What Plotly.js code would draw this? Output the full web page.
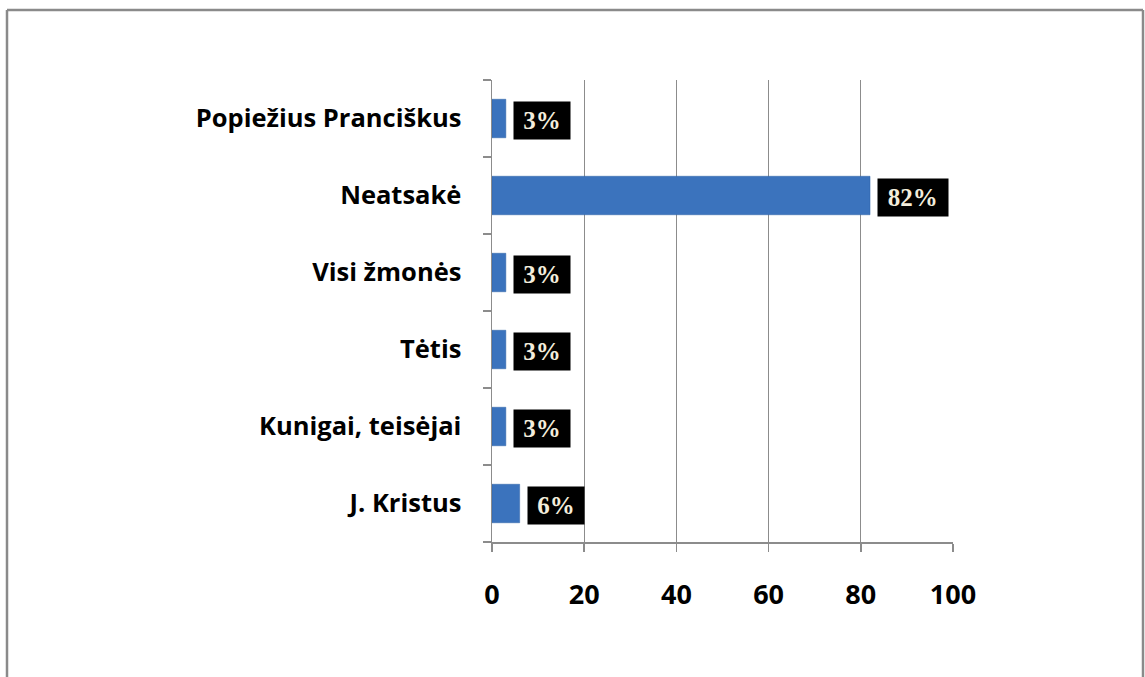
<!DOCTYPE html>
<html>
<head>
<meta charset="utf-8">
<script src="https://cdn.plot.ly/plotly-3.0.1.min.js"></script>
<style>
html,body{margin:0;padding:0;background:#fff;}
#chart{width:1145px;height:677px;}
</style>
</head>
<body>
<div id="chart"></div>
<script>
// Data (bottom to top as drawn)
const categories = ["J. Kristus", "Kunigai, teisėjai", "Tėtis", "Visi žmonės", "Neatsakė", "Popiežius Pranciškus"];
const values = [6, 3, 3, 3, 82, 3];
const valueLabels = ["6%", "3%", "3%", "3%", "82%", "3%"];
const xTicks = [0, 20, 40, 60, 80, 100];

const trace = {
  type: "bar",
  orientation: "h",
  y: categories,
  x: values,
  marker: {color: "#3b73bd", line: {color: "#2f62a6", width: 0.5}},
  hoverinfo: "none"
};

const annotations = categories.map((c, i) => ({
  x: values[i],
  y: c,
  xref: "x",
  yref: "y",
  text: "<b>" + valueLabels[i] + "</b>",
  showarrow: false,
  xanchor: "left",
  yanchor: "middle",
  xshift: 7,
  yshift: -2,
  width: valueLabels[i].length * 13.5 + 19,
  bgcolor: "#000000",
  borderpad: 5,
  font: {family: "Liberation Serif, serif", size: 25, color: "#f3eddc"}
}));

const W = 461, H = 462;
const layout = {
  width: 1145,
  height: 677,
  margin: {l: 492, r: 192, t: 80, b: 135},
  paper_bgcolor: "#ffffff",
  plot_bgcolor: "#ffffff",
  showlegend: false,
  bargap: 0.5,
  xaxis: {
    range: [0, 100],
    tickvals: xTicks,
    ticktext: xTicks.map(String),
    showgrid: true,
    gridcolor: "#8c8c8c",
    gridwidth: 1.2,
    zeroline: false,
    showline: true,
    linecolor: "#8c8c8c",
    linewidth: 1.5,
    ticks: "outside",
    ticklen: 8,
    tickcolor: "#8c8c8c",
    tickwidth: 1.5,
    ticklabelstandoff: 20,
    tickfont: {family: "Open Sans, sans-serif", size: 27, color: "#000", weight: "bold"},
    fixedrange: true
  },
  yaxis: {
    type: "category",
    categoryorder: "array",
    categoryarray: categories,
    showgrid: false,
    showline: true,
    linecolor: "#8c8c8c",
    linewidth: 1.5,
    ticks: "outside",
    tickson: "boundaries",
    ticklen: 8,
    tickcolor: "#8c8c8c",
    tickwidth: 1.5,
    ticklabelstandoff: 24,
    tickfont: {family: "Open Sans, sans-serif", size: 25.5, color: "#000", weight: "bold"},
    fixedrange: true
  },
  annotations: annotations,
  shapes: [
    {type: "line", xref: "paper", yref: "paper",
     x0: (7 - 492) / W, x1: (7 - 492) / W, y0: (542 - 10) / H, y1: (542 - 700) / H,
     line: {color: "#8a8a8a", width: 2.5}},
    {type: "line", xref: "paper", yref: "paper",
     x0: (7 - 492) / W, x1: (1143 - 492) / W, y0: (542 - 10) / H, y1: (542 - 10) / H,
     line: {color: "#8a8a8a", width: 2.5}},
    {type: "line", xref: "paper", yref: "paper",
     x0: (1143 - 492) / W, x1: (1143 - 492) / W, y0: (542 - 10) / H, y1: (542 - 700) / H,
     line: {color: "#8a8a8a", width: 2.5}}
  ]
};

Plotly.newPlot("chart", [trace], layout, {displayModeBar: false, staticPlot: true});
</script>
</body>
</html>
